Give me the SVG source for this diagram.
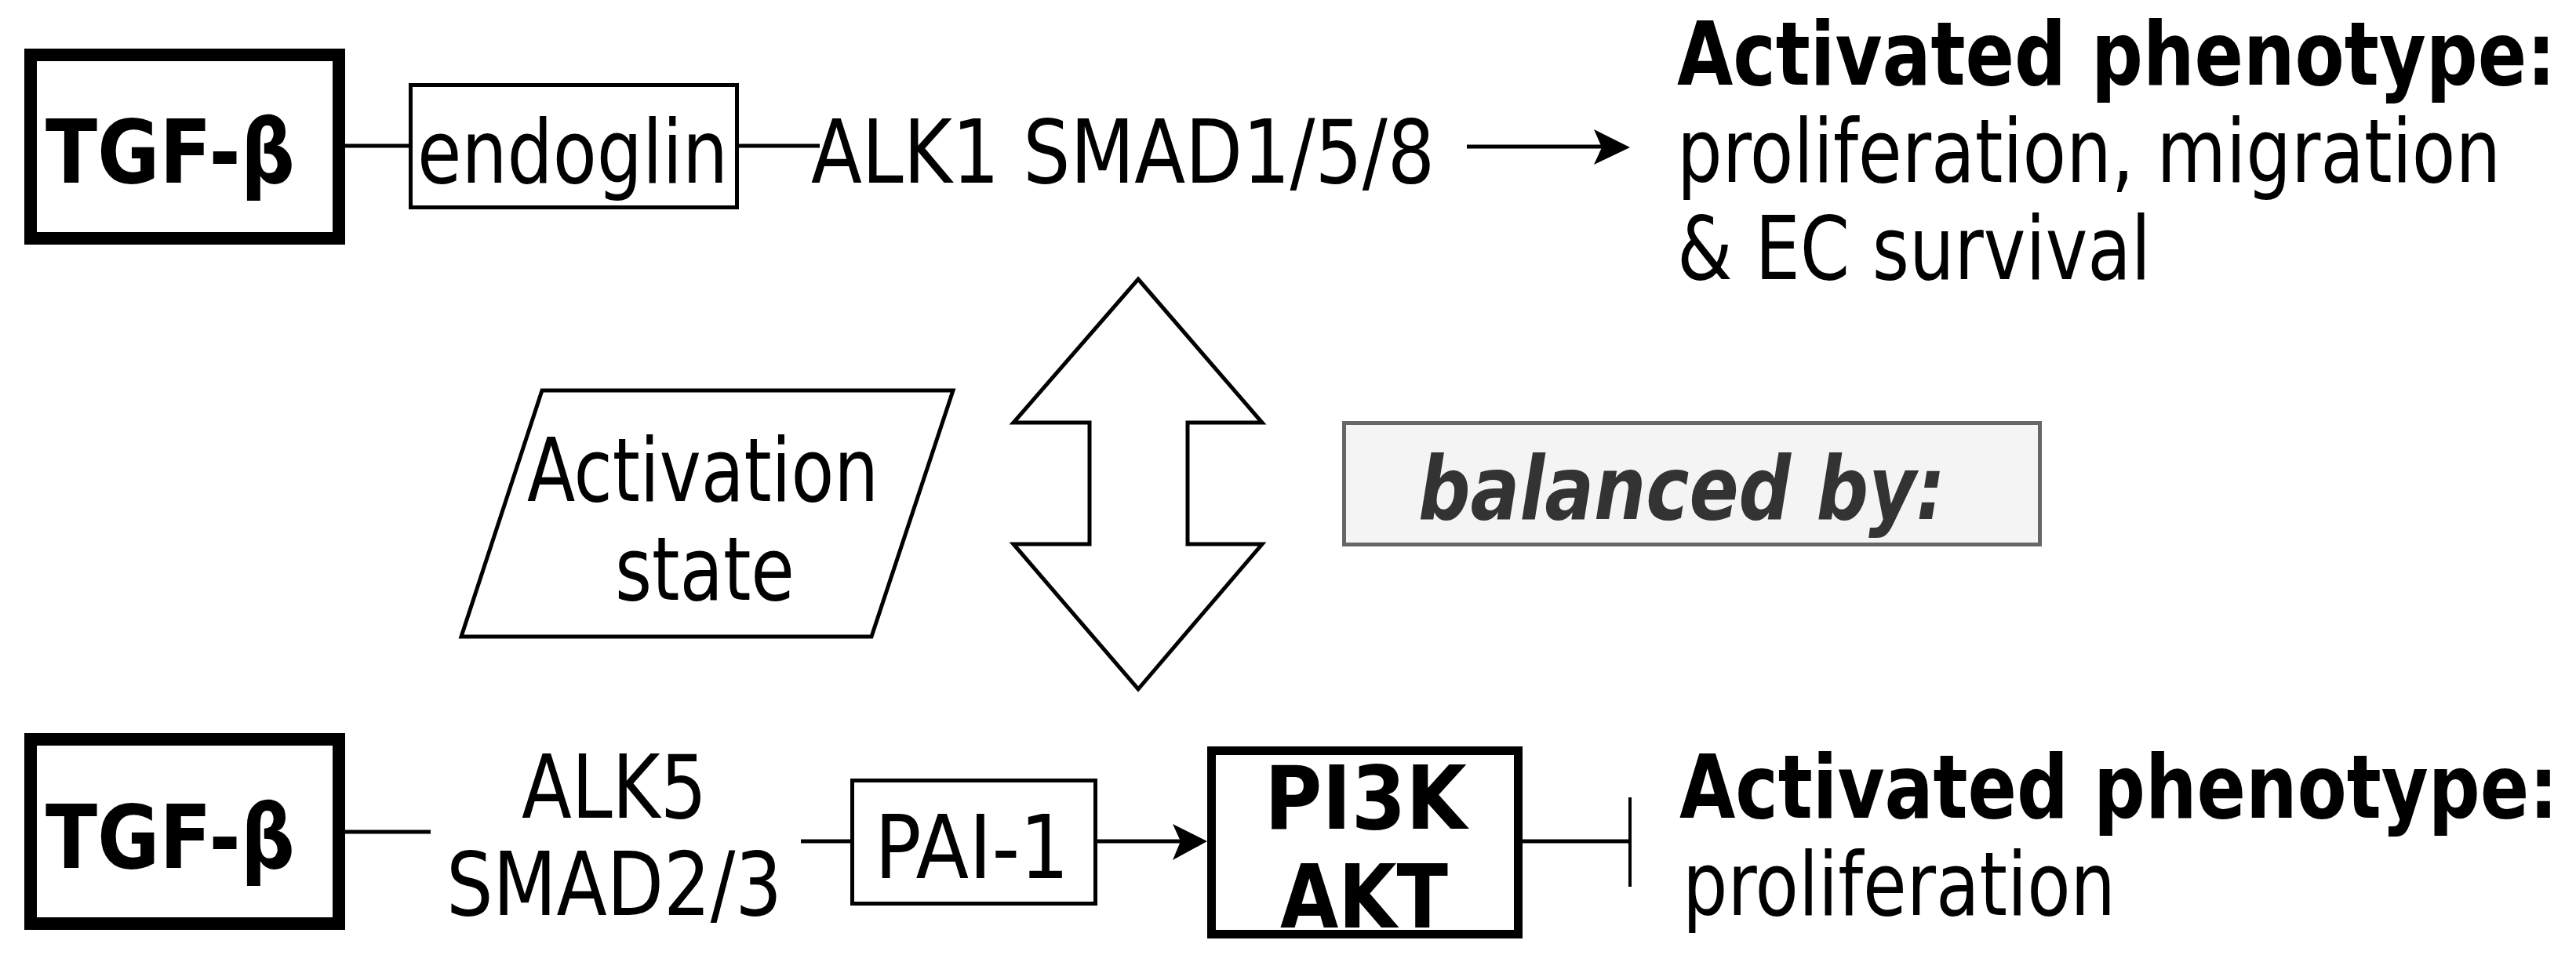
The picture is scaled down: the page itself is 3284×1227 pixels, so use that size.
<svg xmlns="http://www.w3.org/2000/svg" width="3284" height="1227" viewBox="0 0 3284 1227">
<style>
text{font-family:"DejaVu Sans Condensed","DejaVu Sans","Liberation Sans",sans-serif;font-stretch:condensed;font-size:112px;fill:#000}
.b{font-weight:bold}
.bi{font-weight:bold;font-style:italic;fill:#333}
.thick{fill:#fff;stroke:#000;stroke-width:16}
.mid{fill:#fff;stroke:#000;stroke-width:11}
.thin{fill:#fff;stroke:#000;stroke-width:5}
.ln{stroke:#000;stroke-width:5;fill:none}
.head{fill:#000}
</style>
<rect width="3284" height="1227" fill="#fff"/>
<g id="connectors">
<line class="ln" x1="432" y1="186" x2="523" y2="186"/>
<line class="ln" x1="940" y1="186" x2="1045" y2="186"/>
<line class="ln" x1="1870" y1="187" x2="2045" y2="187"/>
<path class="head" d="M2078,188 L2032,165 L2042,188 L2032,210 Z"/>
<line class="ln" x1="432" y1="1061" x2="549" y2="1061"/>
<line class="ln" x1="1021" y1="1073" x2="1086" y2="1073"/>
<line class="ln" x1="1397" y1="1073" x2="1508" y2="1073"/>
<path class="head" d="M1539,1073 L1495,1051 L1505,1073 L1495,1097 Z"/>
<line class="ln" x1="1941" y1="1073" x2="2078" y2="1073"/>
<line class="ln" x1="2078" y1="1017" x2="2078" y2="1131" style="stroke-width:4"/>
</g>
<g id="tgfb-top">
<rect class="thick" x="39" y="70" width="393" height="234"/>
<text class="b" x="58" y="233" textLength="318" lengthAdjust="spacingAndGlyphs">TGF-β</text>
</g>
<g id="endoglin">
<rect class="thin" x="523.5" y="108.5" width="416" height="156"/>
<text x="532" y="233" textLength="396" lengthAdjust="spacingAndGlyphs">endoglin</text>
</g>
<g id="alk1">
<text x="1034" y="233" textLength="795" lengthAdjust="spacingAndGlyphs">ALK1 SMAD1/5/8</text>
</g>
<g id="phenotype-top">
<text class="b" x="2138" y="108" textLength="1120" lengthAdjust="spacingAndGlyphs">Activated phenotype:</text>
<text x="2138" y="232" textLength="1050" lengthAdjust="spacingAndGlyphs">proliferation, migration</text>
<text x="2138" y="356" textLength="604" lengthAdjust="spacingAndGlyphs">&amp; EC survival</text>
</g>
<g id="activation-state">
<polygon class="thin" points="691,498 1215,498 1111,812 588,812"/>
<text x="672" y="639" textLength="448" lengthAdjust="spacingAndGlyphs">Activation</text>
<text x="784" y="765" textLength="229" lengthAdjust="spacingAndGlyphs">state</text>
</g>
<g id="double-arrow">
<polygon class="thin" points="1451,356 1609,539 1514,539 1514,694 1609,694 1451,879 1292,694 1389,694 1389,539 1292,539"/>
</g>
<g id="balanced">
<rect x="1713.5" y="539.5" width="887" height="155" fill="#f4f4f4" stroke="#666" stroke-width="5"/>
<text class="bi" x="1808" y="662" textLength="672" lengthAdjust="spacingAndGlyphs">balanced by:</text>
</g>
<g id="tgfb-bottom">
<rect class="thick" x="39" y="943" width="393" height="235"/>
<text class="b" x="58" y="1107" textLength="318" lengthAdjust="spacingAndGlyphs">TGF-β</text>
</g>
<g id="alk5">
<text x="665" y="1043" textLength="236" lengthAdjust="spacingAndGlyphs">ALK5</text>
<text x="569" y="1167" textLength="428" lengthAdjust="spacingAndGlyphs">SMAD2/3</text>
</g>
<g id="pai1">
<rect class="thin" x="1086.5" y="995.5" width="310" height="157"/>
<text x="1115" y="1120" textLength="248" lengthAdjust="spacingAndGlyphs">PAI-1</text>
</g>
<g id="pi3k-akt">
<rect class="mid" x="1544.5" y="957.5" width="391" height="234"/>
<text class="b" x="1612" y="1057" textLength="258" lengthAdjust="spacingAndGlyphs">PI3K</text>
<text class="b" x="1632" y="1183" textLength="214" lengthAdjust="spacingAndGlyphs">AKT</text>
</g>
<g id="phenotype-bottom">
<text class="b" x="2141" y="1043" textLength="1120" lengthAdjust="spacingAndGlyphs">Activated phenotype:</text>
<text x="2145" y="1167" textLength="552" lengthAdjust="spacingAndGlyphs">proliferation</text>
</g>
</svg>
